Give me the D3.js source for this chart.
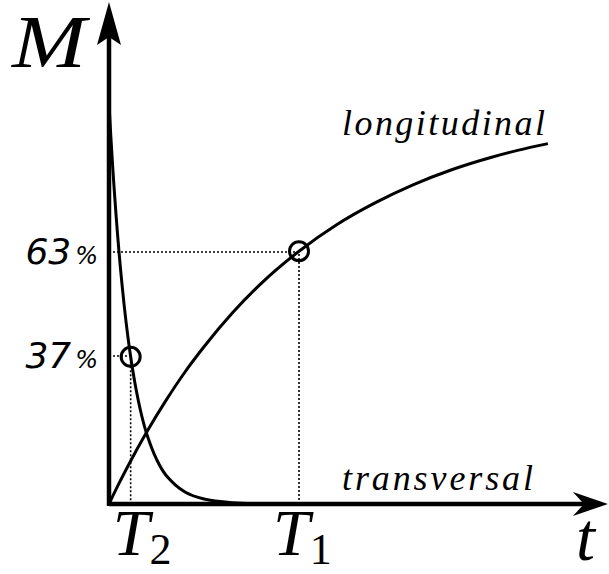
<!DOCTYPE html>
<html>
<head>
<meta charset="utf-8">
<script src="https://cdn.jsdelivr.net/npm/d3@7"></script>
<style>
  body { margin: 0; background: #fff; }
  svg { display: block; }
</style>
</head>
<body>
<div id="plot"></div>
<script>
// t in units of T1, M in percent
const longT = [0, 0.05, 0.1, 0.2, 0.3, 0.4, 0.5, 0.65, 0.8, 1.0, 1.2, 1.4, 1.6, 1.8, 2.0, 2.15, 2.31];
const longM = [0, 4.9, 9.5, 18.1, 25.9, 33.0, 39.3, 47.8, 55.1, 63.2, 69.9, 75.3, 79.8, 83.5, 86.5, 88.4, 90.1];

const transT = [0, 0.01, 0.02, 0.03, 0.045, 0.06, 0.08, 0.1, 0.114, 0.14, 0.17, 0.2, 0.25, 0.3, 0.4, 0.5, 0.65, 0.8, 1.0, 1.4, 2.31];
const transM = [100, 91.6, 83.9, 76.9, 67.4, 59.1, 49.6, 41.6, 36.8, 29.3, 22.5, 17.3, 11.2, 7.2, 3.0, 1.25, 0.33, 0.09, 0.02, 0, 0];

const markT = [1, 0.114];          // T1, T2
const markM = [63, 37];
const markNames = ['T', 'T'];
const markSubs = ['1', '2'];
const curveNames = ['longitudinal', 'transversal'];
const axisNames = ['t', 'M'];
const axisMax = [2.626, 125.5];    // arrow tips (t, M)

const W = 609, H = 574;
const x = d3.scaleLinear().domain([0, 1]).range([109, 299]);
const y = d3.scaleLinear().domain([0, 100]).range([504, 104]);

const svg = d3.select('#plot').append('svg')
  .attr('width', W).attr('height', H);

// dotted guide lines
for (let i = 0; i < markT.length; i++) {
  svg.append('path')
    .attr('d', `M${x(0)},${y(markM[i])}H${x(markT[i])}V${y(0)}`)
    .attr('fill', 'none')
    .attr('stroke', '#000')
    .attr('stroke-width', 1.6)
    .attr('stroke-dasharray', '2,2');
}

// curves
const line = d3.line()
  .x(d => x(d[0]))
  .y(d => y(d[1]))
  .curve(d3.curveMonotoneX);

svg.append('path')
  .datum(longT.map((t, i) => [t, longM[i]]))
  .attr('d', line)
  .attr('fill', 'none').attr('stroke', '#000').attr('stroke-width', 3);

// transversal is steep near t=0, catmull-rom keeps it smooth
const lineT = d3.line()
  .x(d => x(d[0]))
  .y(d => y(d[1]))
  .curve(d3.curveCatmullRom.alpha(0.5));
svg.append('path')
  .datum(transT.map((t, i) => [t, transM[i]]))
  .attr('d', lineT)
  .attr('fill', 'none').attr('stroke', '#000').attr('stroke-width', 3);

// axes
svg.append('line')
  .attr('x1', x(0)).attr('y1', y(0))
  .attr('x2', x(axisMax[0]) - 20).attr('y2', y(0))
  .attr('stroke', '#000').attr('stroke-width', 4.5);
svg.append('line')
  .attr('x1', x(0)).attr('y1', y(0) + 2)
  .attr('x2', x(0)).attr('y2', y(axisMax[1]) + 20)
  .attr('stroke', '#000').attr('stroke-width', 4.5);

// arrow heads
const tx = x(axisMax[0]), ty = y(0);
svg.append('path')
  .attr('d', `M${tx},${ty}L${tx - 35},${ty - 12}L${tx - 24},${ty}L${tx - 35},${ty + 12}Z`)
  .attr('fill', '#000');
const ax = x(0), ay = y(axisMax[1]);
svg.append('path')
  .attr('d', `M${ax},${ay}L${ax + 12},${ay + 43}L${ax},${ay + 35}L${ax - 12},${ay + 43}Z`)
  .attr('fill', '#000');

// circles
for (let i = 0; i < markT.length; i++) {
  const mv = i === 0 ? longM[longT.indexOf(markT[i])] : transM[transT.indexOf(markT[i])];
  svg.append('circle')
    .attr('cx', x(markT[i])).attr('cy', y(mv))
    .attr('r', 9.5)
    .attr('fill', 'none').attr('stroke', '#000').attr('stroke-width', 3);
}

const serif = '"Liberation Serif", "DejaVu Serif", serif';

// percent labels
markM.forEach(m => {
  const t = svg.append('text')
    .attr('x', 98).attr('y', y(m) + 12)
    .attr('text-anchor', 'end')
    .attr('font-family', '"DejaVu Sans", sans-serif')
    .attr('font-style', 'italic')
    .attr('font-size', 36);
  t.append('tspan').text(m);
  t.append('tspan').attr('font-size', 24).attr('dx', 4).text('%');
});

// T labels
const tOff = [-26, -18];
markT.forEach((tv, i) => {
  const t = svg.append('text')
    .attr('x', x(tv) + tOff[i]).attr('y', 555)
    .attr('font-family', serif)
    .attr('font-style', 'italic')
    .attr('font-size', 66);
  t.append('tspan').text(markNames[i]);
  t.append('tspan').attr('font-style', 'normal').attr('font-size', 44)
    .attr('dx', 0).attr('dy', 9).text(markSubs[i]);
});

// axis names
svg.append('text')
  .attr('x', 12).attr('y', 67)
  .attr('font-family', serif).attr('font-style', 'italic')
  .attr('font-size', 74)
  .attr('textLength', 74).attr('lengthAdjust', 'spacingAndGlyphs')
  .text(axisNames[1]);
svg.append('text')
  .attr('x', 576).attr('y', 560)
  .attr('font-family', serif).attr('font-style', 'italic')
  .attr('font-size', 68).text(axisNames[0]);

// curve names
svg.append('text')
  .attr('x', 342).attr('y', 135)
  .attr('font-family', serif).attr('font-style', 'italic')
  .attr('font-size', 36)
  .attr('textLength', 203).attr('lengthAdjust', 'spacing')
  .text(curveNames[0]);
svg.append('text')
  .attr('x', 342).attr('y', 490)
  .attr('font-family', serif).attr('font-style', 'italic')
  .attr('font-size', 36)
  .attr('textLength', 191).attr('lengthAdjust', 'spacing')
  .text(curveNames[1]);
</script>
</body>
</html>
